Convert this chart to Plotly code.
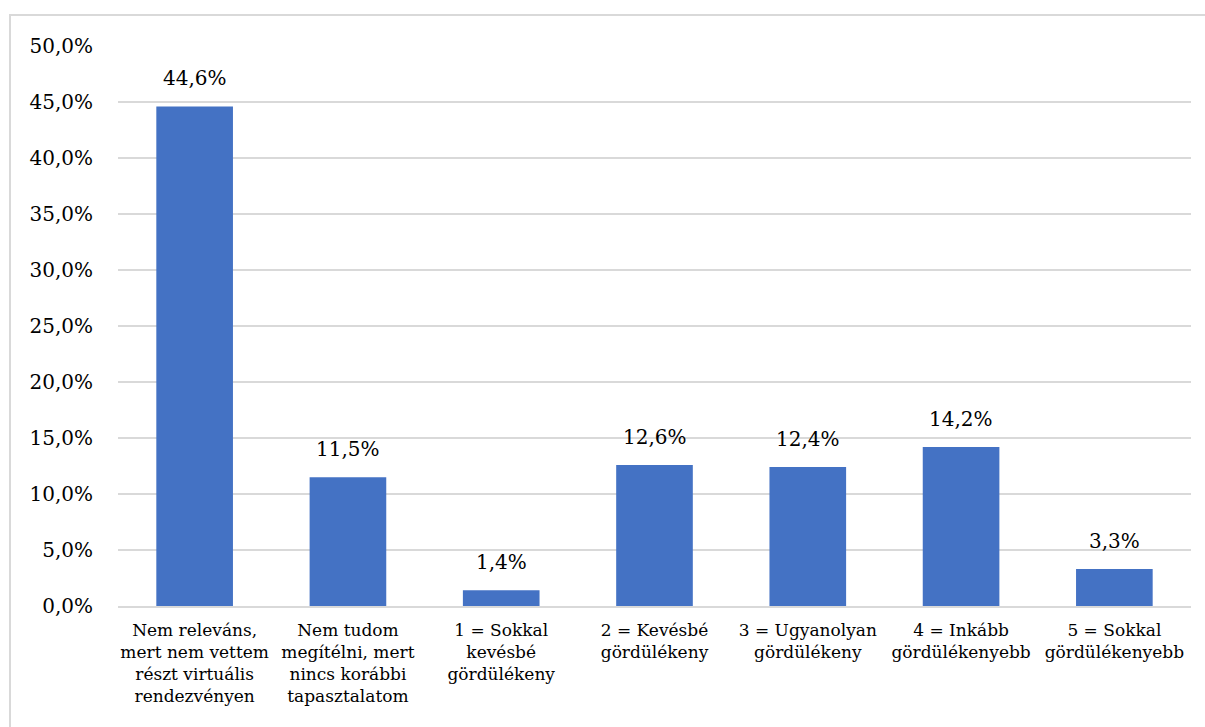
import plotly.graph_objects as go

categories = [
    "Nem releváns,<br>mert nem vettem<br>részt virtuális<br>rendezvényen",
    "Nem tudom<br>megítélni, mert<br>nincs korábbi<br>tapasztalatom",
    "1 = Sokkal<br>kevésbé<br>gördülékeny",
    "2 = Kevésbé<br>gördülékeny",
    "3 = Ugyanolyan<br>gördülékeny",
    "4 = Inkább<br>gördülékenyebb",
    "5 = Sokkal<br>gördülékenyebb",
]
values = [44.6, 11.5, 1.4, 12.6, 12.4, 14.2, 3.3]
tick_vals = [0, 5, 10, 15, 20, 25, 30, 35, 40, 45, 50]
tick_text = ["0,0%", "5,0%", "10,0%", "15,0%", "20,0%", "25,0%", "30,0%",
             "35,0%", "40,0%", "45,0%", "50,0%"]
labels = [f"{v:.1f}%".replace(".", ",") for v in values]

FONT = "'DejaVu Serif', serif"
x_idx = list(range(len(categories)))

fig = go.Figure()
fig.add_trace(go.Bar(
    x=x_idx, y=values, width=0.5,
    marker=dict(color="#4472C4", line=dict(width=0)),
    hoverinfo="skip",
))

for i, (v, t) in enumerate(zip(values, labels)):
    fig.add_annotation(x=i, y=v, text=t, showarrow=False, yanchor="bottom",
                       yshift=14, font=dict(family=FONT, size=20, color="#000000"))

fig.add_shape(type="rect", xref="paper", yref="paper",
              x0=(10 - 118) / 1073, x1=1.05, y0=-0.3, y1=(606 - 15) / 560,
              line=dict(color="#d9d9d9", width=2), layer="below")

fig.update_layout(
    width=1205, height=727,
    margin=dict(l=118, r=14, t=46, b=121),
    paper_bgcolor="white", plot_bgcolor="white",
    showlegend=False,
    font=dict(family=FONT, color="#000000"),
    xaxis=dict(
        range=[-0.5, 6.5], tickvals=x_idx, ticktext=categories,
        showgrid=False, zeroline=False, showline=True,
        linecolor="#d9d9d9", linewidth=1.5, ticks="", ticklabelstandoff=8,
        tickfont=dict(family=FONT, size=17, color="#000000"),
    ),
    yaxis=dict(
        range=[0, 50], tickvals=tick_vals, ticktext=tick_text,
        showgrid=True, gridcolor="#d9d9d9", gridwidth=1.5,
        zeroline=False, showline=False, ticks="", ticklabelstandoff=24,
        tickfont=dict(family=FONT, size=20, color="#000000"),
    ),
)

fig.write_html("out.html")
